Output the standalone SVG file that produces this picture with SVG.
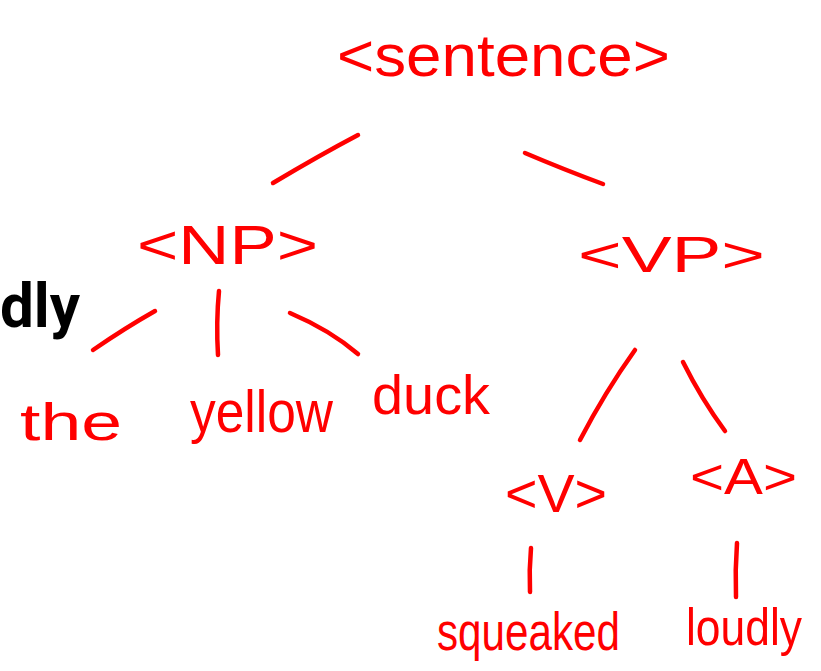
<svg xmlns="http://www.w3.org/2000/svg" width="821" height="671" viewBox="0 0 821 671">
<style>
.hw{font-family:"Liberation Sans","DejaVu Sans",sans-serif;fill:#ff0000;}
.edge{stroke:#ff0000;stroke-width:4.5;stroke-linecap:round;fill:none;}
.blk{font-family:Roboto,"Liberation Sans",sans-serif;fill:#000;font-weight:bold;}
</style>
<rect width="821" height="671" fill="#ffffff"/>
<g id="fragment">
<text class="blk" x="0" y="327" font-size="62" textLength="80" lengthAdjust="spacingAndGlyphs">dly</text>
</g>
<g id="connectors">
<path class="edge" d="M358,135 Q320,155 273,183"/>
<path class="edge" d="M525,153 Q565,170 603,184"/>
<path class="edge" d="M155,311 Q125,328 93,350"/>
<path class="edge" d="M219,291 Q216,322 218,355"/>
<path class="edge" d="M290,313 Q330,330 358,354"/>
<path class="edge" d="M635,350 Q605,392 580,440"/>
<path class="edge" d="M683,362 Q702,400 725,431"/>
<path class="edge" d="M531,548 Q529,570 530,592"/>
<path class="edge" d="M737,543 Q735,570 736,597"/>
</g>
<g id="n-sentence">
<text class="hw" x="337" y="76" font-size="60" textLength="333" lengthAdjust="spacingAndGlyphs">&lt;sentence&gt;</text>
</g>
<g id="n-np">
<text class="hw" x="137" y="264" font-size="56" textLength="181" lengthAdjust="spacingAndGlyphs">&lt;NP&gt;</text>
</g>
<g id="n-vp">
<text class="hw" x="578" y="272" font-size="50" textLength="187" lengthAdjust="spacingAndGlyphs">&lt;VP&gt;</text>
</g>
<g id="n-the">
<text class="hw" x="20" y="440" font-size="52" textLength="102" lengthAdjust="spacingAndGlyphs">the</text>
</g>
<g id="n-yellow">
<text class="hw" x="190" y="432" font-size="60" textLength="143" lengthAdjust="spacingAndGlyphs">yellow</text>
</g>
<g id="n-duck">
<text class="hw" x="372" y="414" font-size="56" textLength="118" lengthAdjust="spacingAndGlyphs">duck</text>
</g>
<g id="n-v">
<text class="hw" x="505" y="512" font-size="54" textLength="102" lengthAdjust="spacingAndGlyphs">&lt;V&gt;</text>
</g>
<g id="n-a">
<text class="hw" x="690" y="494" font-size="50" textLength="107" lengthAdjust="spacingAndGlyphs">&lt;A&gt;</text>
</g>
<g id="n-squeaked">
<text class="hw" x="437" y="650" font-size="54" textLength="183" lengthAdjust="spacingAndGlyphs">squeaked</text>
</g>
<g id="n-loudly">
<text class="hw" x="686" y="645" font-size="52" textLength="116" lengthAdjust="spacingAndGlyphs">loudly</text>
</g>
</svg>
